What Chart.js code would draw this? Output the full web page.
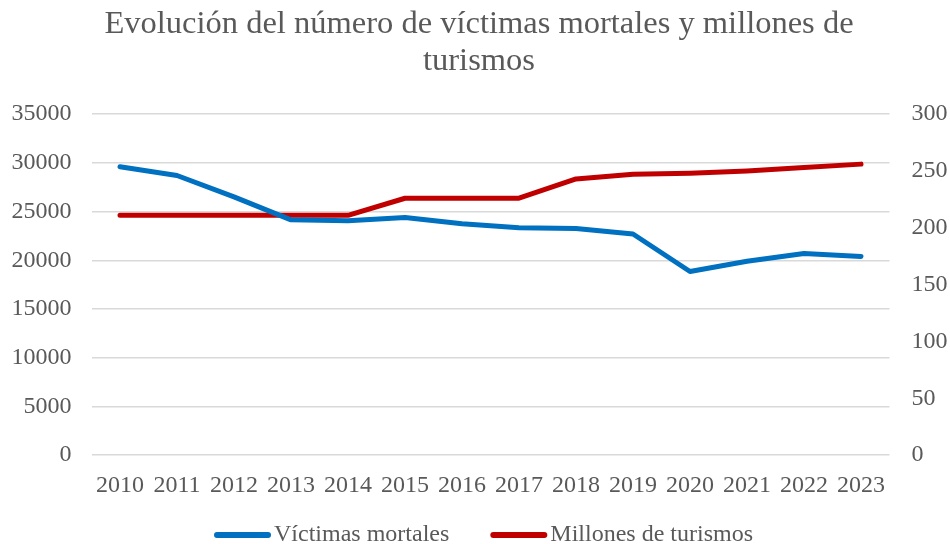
<!DOCTYPE html>
<html>
<head>
<meta charset="utf-8">
<script src="https://cdn.jsdelivr.net/npm/chart.js@4"></script>
<style>
html,body{margin:0;padding:0;background:#fff;}
#wrap{width:950px;height:544px;position:relative;}
</style>
</head>
<body>
<div id="wrap"><canvas id="c" width="950" height="544"></canvas></div>
<script>
const years = ['2010','2011','2012','2013','2014','2015','2016','2017','2018','2019','2020','2021','2022','2023'];
const victimas = [29600, 28700, 26500, 24150, 24050, 24400, 23750, 23350, 23250, 22700, 18850, 19900, 20700, 20400];
const turismos = [211, 211, 211, 211, 211, 226, 226, 226, 243, 247, 248, 250, 253, 256];
const leftTicks = [0, 5000, 10000, 15000, 20000, 25000, 30000, 35000];
const rightTicks = [0, 50, 100, 150, 200, 250, 300];
const titleLines = ['Evolución del número de víctimas mortales y millones de', 'turismos'];
const seriesNames = ['Víctimas mortales', 'Millones de turismos'];

const FONT = "'Liberation Serif', 'Times New Roman', serif";
const TXT = '#595959';
const BLUE = '#0070C0';
const RED = '#C00000';

const legendPlugin = {
  id: 'customLegend',
  afterDraw(chart) {
    const ctx = chart.ctx;
    ctx.save();
    ctx.font = '24px ' + FONT;
    const mw = 57, tgap = 3, gap = 41, y = 535, base = 541;
    const items = chart.data.datasets.map(d => ({text: d.label, color: d.borderColor, w: ctx.measureText(d.label).width}));
    const total = items.reduce((s, it) => s + mw + tgap + it.w, 0) + gap * (items.length - 1);
    let x = 483.5 - total / 2;
    items.forEach(it => {
      ctx.strokeStyle = it.color;
      ctx.lineWidth = 6;
      ctx.lineCap = 'round';
      ctx.beginPath();
      ctx.moveTo(x + 3, y);
      ctx.lineTo(x + mw - 3, y);
      ctx.stroke();
      ctx.fillStyle = TXT;
      ctx.textBaseline = 'alphabetic';
      ctx.textAlign = 'left';
      ctx.fillText(it.text, x + mw + tgap, base);
      x += mw + tgap + it.w + gap;
    });
    ctx.restore();
  }
};

new Chart(document.getElementById('c'), {
  type: 'line',
  data: {
    labels: years,
    datasets: [
      {label: seriesNames[0], data: victimas, yAxisID: 'y', borderColor: BLUE, backgroundColor: BLUE, borderWidth: 5, pointRadius: 0, tension: 0, borderCapStyle: 'round', borderJoinStyle: 'round'},
      {label: seriesNames[1], data: turismos, yAxisID: 'y1', borderColor: RED, backgroundColor: RED, borderWidth: 5, pointRadius: 0, tension: 0, borderCapStyle: 'round', borderJoinStyle: 'round'}
    ]
  },
  options: {
    responsive: false,
    animation: false,
    devicePixelRatio: 1,
    layout: {padding: {left: 8, right: 0, top: 0, bottom: 28}},
    plugins: {
      legend: {display: false},
      tooltip: {enabled: false},
      title: {
        display: true,
        text: titleLines,
        color: TXT,
        font: {family: FONT, size: 32.5, weight: 'normal', lineHeight: 1.14},
        padding: {top: 6, bottom: 34}
      }
    },
    scales: {
      x: {
        offset: true,
        grid: {display: false, drawTicks: false},
        border: {display: false},
        ticks: {color: TXT, font: {family: FONT, size: 24}, padding: 16, maxRotation: 0, autoSkip: false}
      },
      y: {
        position: 'left',
        min: 0, max: 35000,
        afterBuildTicks(s) { s.ticks = leftTicks.map(v => ({value: v})); },
        afterFit(s) { s.width = 83.5; },
        grid: {color: '#d9d9d9', lineWidth: 1.5, drawTicks: false},
        border: {display: false},
        ticks: {color: TXT, font: {family: FONT, size: 24}, padding: 20, callback: v => String(v)}
      },
      y1: {
        position: 'right',
        min: 0, max: 300,
        afterBuildTicks(s) { s.ticks = rightTicks.map(v => ({value: v})); },
        afterFit(s) { s.width = 60.5; },
        grid: {display: false, drawTicks: false},
        border: {display: false},
        ticks: {color: TXT, font: {family: FONT, size: 24}, padding: 22, callback: v => String(v)}
      }
    }
  },
  plugins: [legendPlugin]
});
</script>
</body>
</html>
